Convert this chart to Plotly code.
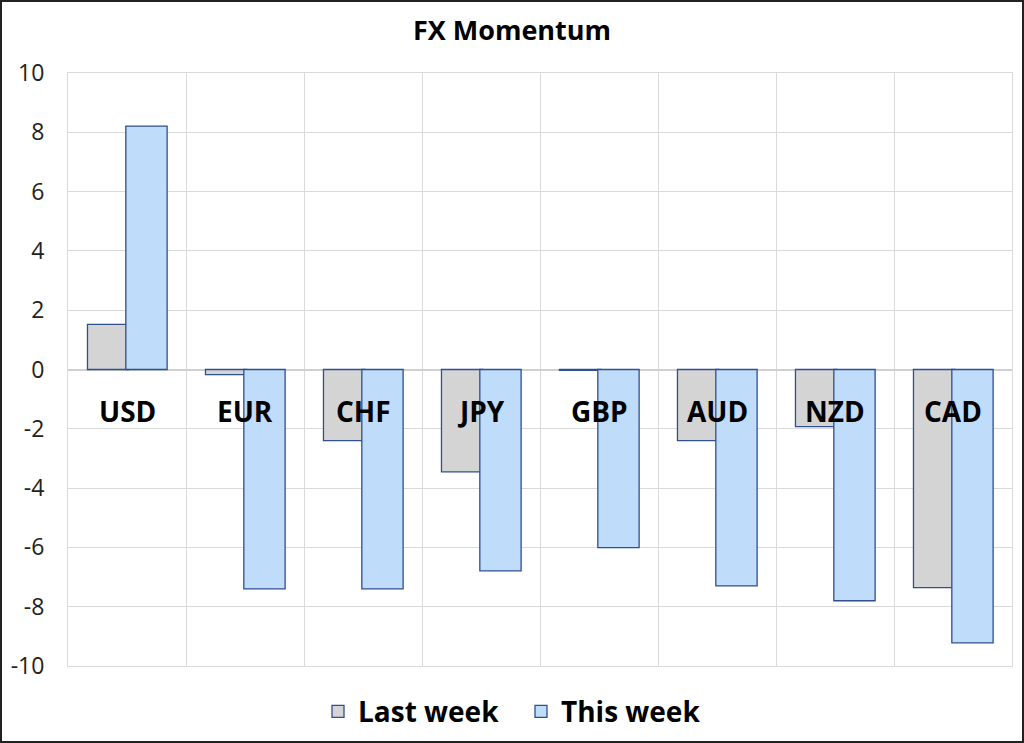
import plotly.graph_objects as go

currencies = ["USD", "EUR", "CHF", "JPY", "GBP", "AUD", "NZD", "CAD"]
last_week = [1.52, -0.17, -2.40, -3.45, -0.03, -2.40, -1.93, -7.36]
this_week = [8.21, -7.40, -7.40, -6.79, -6.01, -7.30, -7.80, -9.22]
y_ticks = [10, 8, 6, 4, 2, 0, -2, -4, -6, -8, -10]
y_tick_labels = ["10", "8", "6", "4", "2", "0", "-2", "-4", "-6", "-8", "-10"]

W, H = 1024, 743
ml, mr, mt, mb = 68, 12, 73, 77
pw, ph = W - ml - mr, H - mt - mb

edge = "#2f4f8f"
grid = "#dadada"
fig = go.Figure()
fig.add_trace(go.Bar(x=currencies, y=last_week, name="Last week",
                     marker=dict(color="#d4d4d4", line=dict(color=edge, width=1.3)),
                     width=0.35, offset=-0.335))
fig.add_trace(go.Bar(x=currencies, y=this_week, name="This week",
                     marker=dict(color="#bfdcfb", line=dict(color=edge, width=1.3)),
                     width=0.35, offset=-0.01))

# currency labels sit inside the plot just under zero
for c in currencies:
    fig.add_annotation(x=c, y=-1.4, text="<b>" + c + "</b>", showarrow=False,
                       font=dict(size=28, color="black"))

# outer frame
fig.add_shape(type="rect", xref="paper", yref="paper",
              x0=-(ml - 1) / pw, x1=1 + (mr - 1) / pw,
              y0=-(mb - 1) / ph, y1=1 + (mt - 1) / ph,
              line=dict(color="#222222", width=2))

fig.update_layout(
    width=W, height=H,
    margin=dict(l=ml, r=mr, t=mt, b=mb, autoexpand=False),
    paper_bgcolor="white", plot_bgcolor="white",
    font=dict(family="Open Sans", color="black"),
    title=dict(text="<b>FX Momentum</b>", x=0.5, xref="container",
               y=1 - 31 / H, yanchor="middle", yref="container",
               font=dict(size=27, color="black")),
    barmode="overlay",
    showlegend=True,
    legend=dict(orientation="h", x=(318 - ml) / pw, xanchor="left",
                y=-0.035, yanchor="top", font=dict(size=28, weight=700),
                entrywidth=158, entrywidthmode="pixels",
                traceorder="normal"),
)
fig.update_xaxes(type="category", tickson="boundaries", showticklabels=False,
                 showgrid=True, gridcolor=grid, gridwidth=1,
                 showline=True, linecolor=grid, linewidth=1, mirror=True,
                 zeroline=False, ticks="")
fig.update_yaxes(range=[-10, 10], tickvals=y_ticks, ticktext=y_tick_labels,
                 showgrid=True, gridcolor=grid,
                 showline=True, linecolor=grid, linewidth=1, mirror=True,
                 zeroline=True, zerolinecolor="#d0d0d0", zerolinewidth=1.5,
                 tickfont=dict(size=23, color="#222222"), ticks="",
                 ticklabelstandoff=18)

fig.write_html("out.html", config={"displayModeBar": False},
               post_script="document.body.style.margin='0px';")
